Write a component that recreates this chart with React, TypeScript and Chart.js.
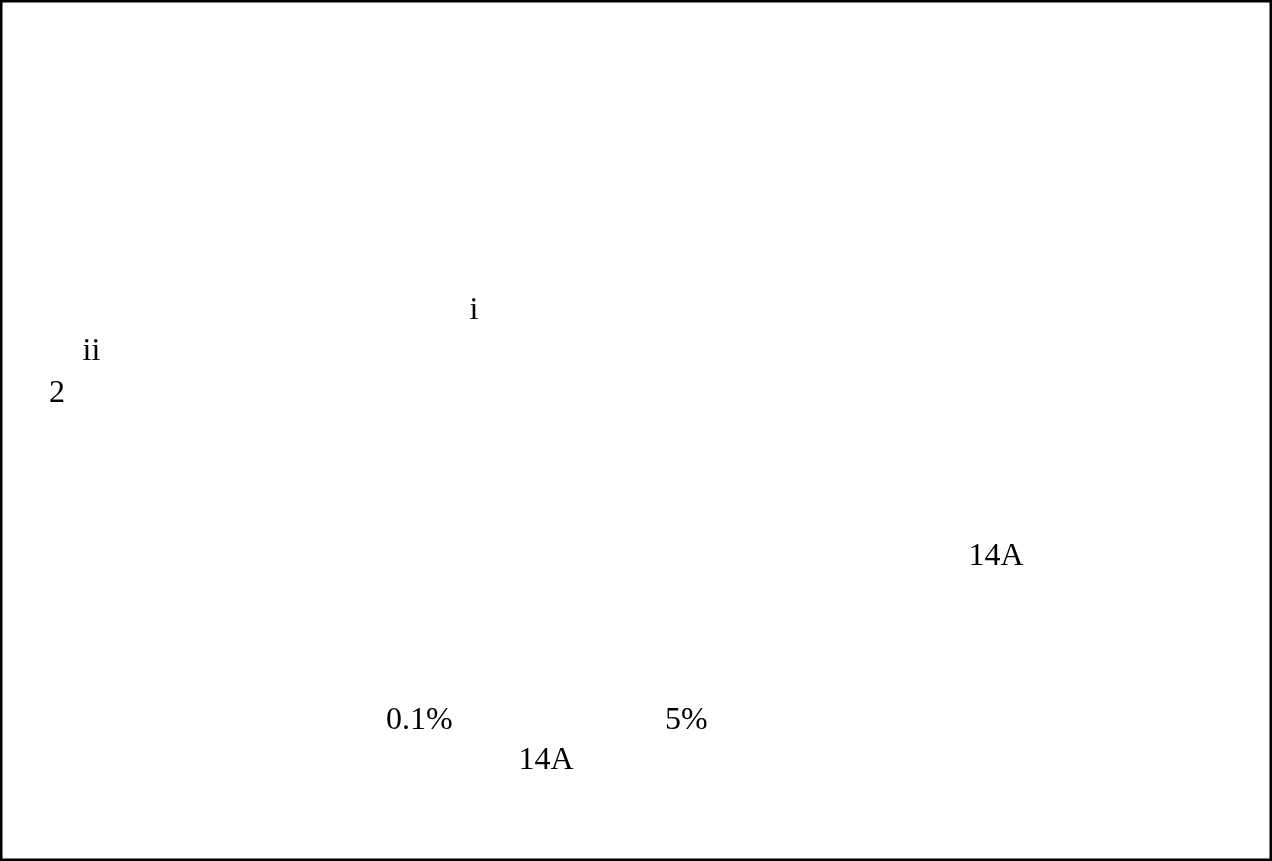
import React, { useEffect, useRef } from "react";
import { Chart, registerables } from "chart.js";

Chart.register(...registerables);

// Text annotations of the figure, positioned in the figure's own coordinate frame
const labelTexts: string[] = ["i", "ii", "2", "14A", "0.1%", "5%", "14A"];
const labelX: number[] = [469.5, 82.5, 49, 968.5, 386, 665, 518.5];
const labelY: number[] = [319, 360, 402, 565, 728.5, 728.5, 768.5];

const FIG_W = 1272;
const FIG_H = 861;

const framePlugin = {
  id: "frame",
  afterDraw(chart: any) {
    const { ctx, chartArea } = chart;
    ctx.save();
    ctx.strokeStyle = "#000000";
    ctx.lineWidth = 2.5;
    ctx.strokeRect(
      chartArea.left + 1.25,
      chartArea.top + 1.25,
      chartArea.right - chartArea.left - 2.5,
      chartArea.bottom - chartArea.top - 2.5
    );
    ctx.restore();
  },
};

const textLabelPlugin = {
  id: "textLabels",
  afterDatasetsDraw(chart: any) {
    const { ctx } = chart;
    const meta = chart.getDatasetMeta(0);
    ctx.save();
    ctx.fillStyle = "#000000";
    ctx.font = '32px "Liberation Serif", "Times New Roman", serif';
    ctx.textAlign = "left";
    ctx.textBaseline = "alphabetic";
    meta.data.forEach((el: any, i: number) => {
      ctx.fillText(labelTexts[i], el.x, el.y);
    });
    ctx.restore();
  },
};

export default function App() {
  const canvasRef = useRef<HTMLCanvasElement | null>(null);

  useEffect(() => {
    document.body.style.margin = "0";
    document.body.style.background = "#ffffff";
    const canvas = canvasRef.current;
    if (!canvas) return;
    const chart = new Chart(canvas, {
      type: "scatter",
      data: {
        datasets: [
          {
            label: "labels",
            data: labelTexts.map((_, i) => ({ x: labelX[i], y: labelY[i] })),
            pointRadius: 0,
            pointHoverRadius: 0,
            showLine: false,
          },
        ],
      },
      options: {
        animation: false,
        responsive: false,
        devicePixelRatio: 1,
        layout: { padding: 0 },
        events: [],
        plugins: {
          legend: { display: false },
          tooltip: { enabled: false },
          title: { display: false },
        },
        scales: {
          x: { type: "linear", min: 0, max: FIG_W, display: false },
          y: { type: "linear", min: 0, max: FIG_H, reverse: true, display: false },
        },
      },
      plugins: [textLabelPlugin, framePlugin],
    });
    return () => chart.destroy();
  }, []);

  return (
    <div style={{ width: FIG_W, height: FIG_H, background: "#ffffff" }}>
      <canvas ref={canvasRef} width={FIG_W} height={FIG_H} style={{ display: "block" }} />
    </div>
  );
}
